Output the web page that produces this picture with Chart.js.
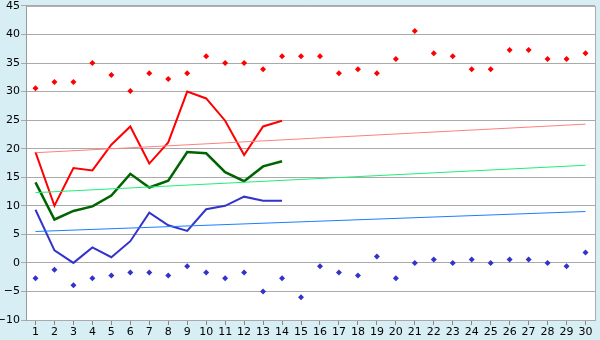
<!DOCTYPE html>
<html>
<head>
<meta charset="utf-8">
<script src="https://cdn.jsdelivr.net/npm/chart.js@4/dist/chart.umd.min.js"></script>
<style>
   html, body { margin: 0; padding: 0; background: #d8eef5; }
   #wrap { width: 600px; height: 340px; }
</style>
</head>
<body>
<div id="wrap"><canvas id="myChart" width="600" height="340"></canvas></div>
<script>
const days = [];
for (let i = 1; i <= 30; i++) days.push(String(i));

const maxPoints = [30.6, 31.7, 31.7, 35.0, 32.9, 30.1, 33.2, 32.2, 33.2, 36.2,
   35.0, 35.0, 33.9, 36.2, 36.2, 36.2, 33.2, 33.9, 33.2, 35.7,
   40.6, 36.7, 36.2, 33.9, 33.9, 37.3, 37.3, 35.7, 35.7, 36.7];
const minPoints = [-2.7, -1.2, -3.9, -2.7, -2.2, -1.7, -1.7, -2.2, -0.6, -1.7,
   -2.7, -1.7, -5.0, -2.7, -6.0, -0.6, -1.7, -2.2, 1.1, -2.7,
   0.0, 0.6, 0.0, 0.6, 0.0, 0.6, 0.6, 0.0, -0.6, 1.8];
const highLine = [19.4, 10.0, 16.6, 16.2, 20.7, 23.9, 17.4, 21.1, 30.0, 28.8, 24.9, 18.9, 23.9, 24.9];
const meanLine = [14.1, 7.6, 9.1, 9.9, 11.8, 15.6, 13.2, 14.4, 19.4, 19.2, 15.9, 14.3, 16.9, 17.8];
const lowLine = [9.3, 2.2, 0.0, 2.7, 1.0, 3.8, 8.8, 6.6, 5.6, 9.4, 10.0, 11.6, 10.9, 10.9];

// trend lines: only the two ends
const highTrend = [19.3, 24.3];
const meanTrend = [12.3, 17.1];
const lowTrend = [5.5, 9.0];

function ends(pair) {
   const arr = new Array(days.length).fill(null);
   arr[0] = pair[0];
   arr[days.length - 1] = pair[1];
   return arr;
}

const plotBg = {
   id: 'plotBg',
   beforeDraw(chart) {
      const { ctx, chartArea: a } = chart;
      ctx.save();
      ctx.fillStyle = '#ffffff';
      ctx.fillRect(a.left, a.top, a.right - a.left, a.bottom - a.top);
      ctx.restore();
   },
   afterDatasetsDraw(chart) {
      const { ctx, chartArea: a } = chart;
      ctx.save();
      ctx.strokeStyle = '#aaaaaa';
      ctx.lineWidth = 1;
      ctx.beginPath();
      ctx.moveTo(a.left, a.top + 0.5);
      ctx.lineTo(a.right + 0.5, a.top + 0.5);
      ctx.lineTo(a.right + 0.5, a.bottom);
      ctx.stroke();
      ctx.restore();
   }
};

const trend = (data, color) => ({
   data: ends(data),
   borderColor: color,
   borderWidth: 1,
   pointRadius: 0,
   spanGaps: true,
   fill: false,
   tension: 0
});

const curve = (data, color, w) => ({
   data: data,
   borderColor: color,
   borderWidth: w,
   pointRadius: 0,
   fill: false,
   tension: 0
});

const dots = (data, color) => ({
   data: data,
   showLine: false,
   pointStyle: 'rectRot',
   pointRadius: 3,
   pointBorderWidth: 0,
   backgroundColor: color,
   borderColor: color
});

new Chart(document.getElementById('myChart').getContext('2d'), {
   type: 'line',
   data: {
      labels: days,
      datasets: [
         trend(highTrend, '#ff8080'),
         trend(meanTrend, '#22ee77'),
         trend(lowTrend, '#1a80ff'),
         curve(highLine, '#ff0000', 2),
         curve(meanLine, '#006400', 2.5),
         curve(lowLine, '#3333cc', 2),
         dots(maxPoints, '#ff0000'),
         dots(minPoints, '#3333cc')
      ]
   },
   options: {
      responsive: false,
      animation: false,
      layout: { padding: { top: 0, right: 5, left: 0, bottom: 0 } },
      plugins: { legend: { display: false }, tooltip: { enabled: false } },
      scales: {
         x: {
            offset: true,
            grid: { offset: false, drawOnChartArea: false, tickLength: 5, color: '#888888' },
            border: { color: '#aaaaaa' },
            ticks: { color: '#000000', font: { family: 'DejaVu Sans', size: 11 }, padding: 1, maxRotation: 0, autoSkip: false },
            afterFit(s) { s.height = 20; }
         },
         y: {
            min: -10,
            max: 45,
            grid: { color: '#aaaaaa', tickLength: 5 },
            border: { color: '#999999' },
            ticks: {
               stepSize: 5,
               color: '#000000',
               padding: 1,
               font: { family: 'DejaVu Sans', size: 11, lineHeight: 0.9 },
               callback: v => String(v).replace('-', '\u2212')
            },
            afterFit(s) { s.width = 26; }
         }
      }
   },
   plugins: [plotBg]
});
</script>
</body>
</html>
